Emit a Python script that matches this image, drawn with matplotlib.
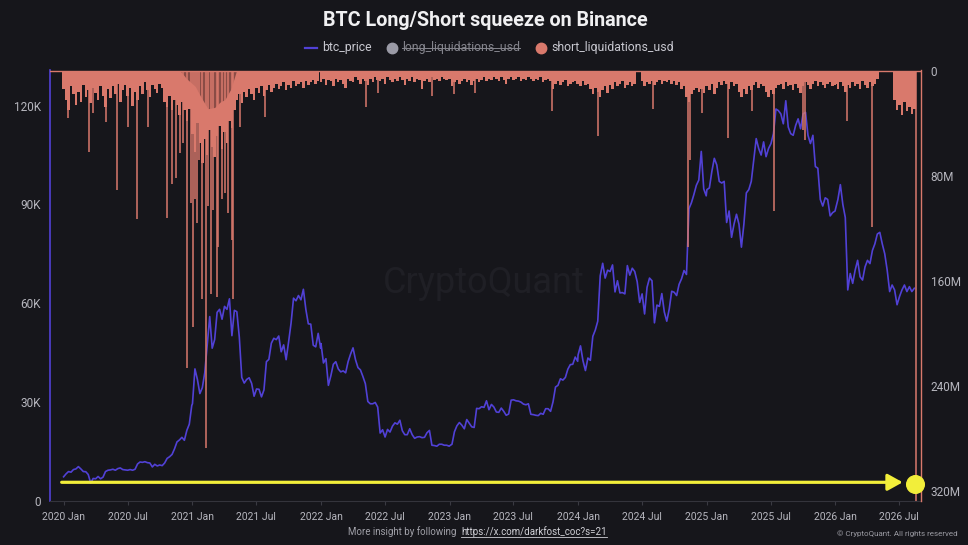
import matplotlib
matplotlib.use("Agg")
import matplotlib.pyplot as plt
import pandas as pd
from matplotlib.lines import Line2D

plt.rcParams['font.family'] = ['Roboto', 'DejaVu Sans']

# ---- BTC price, weekly samples from Jan 1 of each year (thousand USD) ----
price_2020 = [7.2, 8.1, 8.8, 8.6, 9.4, 9.6, 10.3, 9.6, 8.8, 8.75, 7.9, 5.3, 6.7, 6.6, 7.3, 6.6, 7.1, 8.8,
              9.2, 9.3, 9.5, 9.2, 9.7, 9.9, 9.4, 9.3, 9.2, 9.4, 9.2, 9.5, 11.1, 11.7, 11.6, 11.8, 11.5,
              11.4, 10.2, 11.0, 10.5, 10.8, 10.6, 11.4, 12.8, 13.3, 14.0, 15.7, 17.8, 18.4, 19.2, 18.3,
              21.3, 23.2, 28.9]
price_2021 = [29.4, 40.0, 36.8, 32.5, 34.3, 38.9, 47.5, 55.9, 46.3, 48.9, 57.2, 58.1, 55.1, 59.0, 58.1,
              61.3, 50.1, 57.8, 57.4, 49.7, 37.4, 35.7, 36.8, 37.3, 35.6, 31.7, 33.9, 33.8, 31.5, 33.6,
              42.2, 42.9, 47.8, 49.3, 48.9, 50.0, 45.2, 47.3, 42.8, 48.2, 53.9, 61.5, 60.7, 62.3, 61.0,
              64.2, 58.1, 53.7, 53.6, 47.2, 46.7, 50.8, 46.3]
price_2022 = [47.7, 41.8, 43.1, 35.0, 37.9, 41.4, 42.2, 40.0, 39.1, 39.4, 38.8, 42.2, 44.5, 46.4, 42.8,
              40.4, 39.7, 37.7, 35.5, 30.1, 29.4, 29.4, 29.8, 28.4, 20.5, 21.5, 19.3, 21.6, 20.8, 22.6,
              23.6, 23.2, 24.4, 21.2, 20.0, 20.0, 21.8, 20.0, 18.9, 19.3, 19.4, 19.1, 19.2, 20.6, 21.3,
              16.8, 16.7, 16.5, 17.1, 17.1, 16.8, 16.8, 16.5]
price_2023 = [16.6, 17.1, 20.9, 22.7, 23.7, 22.9, 21.8, 24.6, 23.5, 22.4, 22.2, 28.0, 27.9, 28.5, 28.3,
              30.3, 27.6, 29.2, 28.4, 26.9, 26.8, 28.1, 27.1, 25.9, 26.3, 30.5, 30.6, 30.3, 30.2, 29.9,
              29.3, 29.1, 29.4, 26.2, 26.1, 25.9, 25.8, 26.5, 26.2, 27.9, 27.9, 27.1, 30.0, 34.5, 35.0,
              37.0, 36.6, 37.4, 39.9, 41.3, 41.4, 43.6, 42.3]
price_2024 = [44.2, 47.0, 42.5, 39.5, 43.3, 42.6, 49.9, 51.8, 54.5, 68.3, 72.1, 67.6, 70.0, 69.6, 71.6,
              63.4, 66.8, 63.1, 63.2, 62.8, 71.4, 68.5, 70.6, 69.6, 66.5, 60.2, 62.8, 56.7, 64.8, 67.6,
              66.8, 54.0, 59.4, 59.0, 62.9, 57.3, 54.5, 58.2, 63.6, 63.3, 62.3, 65.7, 67.4, 69.9, 68.7,
              88.7, 90.5, 93.0, 95.8, 97.4, 106.1, 94.7, 92.6]
price_2025 = [94.5, 95.0, 100.0, 104.0, 102.0, 97.0, 96.5, 97.0, 84.5, 88.0, 80.0, 84.0, 87.0, 84.0,
              77.0, 84.0, 93.5, 94.5, 97.0, 103.5, 110.0, 107.0, 105.0, 109.0, 104.5, 107.0, 108.5,
              111.5, 119.0, 118.5, 117.5, 114.5, 121.5, 113.5, 111.5, 111.0, 114.0, 116.0, 113.0,
              117.5, 118.0, 111.0, 108.5, 111.0, 101.5, 101.0, 91.5, 89.5, 92.0, 91.5, 86.5, 87.5, 88.0]
price_2026 = [88.5, 91.5, 96.0, 90.0, 86.0, 64.0, 69.0, 66.0, 70.0, 73.0, 68.0, 67.0, 71.0, 73.0, 72.0,
              76.0, 78.0, 81.0, 81.5, 78.0, 75.0, 70.0, 63.5, 65.5, 64.0, 59.5, 62.0, 64.0, 65.5, 63.5,
              65.0, 63.5, 64.5]

# ---- short liquidations, weekly band (million USD) ----
liq_2020 = [14, 22, 30, 12, 18, 26, 16, 24, 11, 20, 15, 25, 13, 17, 22, 12, 19, 28, 14, 21, 12, 18, 10,
            24, 15, 11, 19, 13, 27, 16, 22, 12, 18, 9, 15, 20, 11, 14, 17, 10, 13, 24, 28, 19, 30, 22,
            26, 34, 24, 30, 38, 29, 40]
liq_2021 = [48, 62, 40, 55, 70, 52, 64, 45, 58, 66, 50, 42, 60, 47, 55, 38, 44, 30, 22, 18, 25, 16, 20,
            14, 18, 22, 13, 17, 12, 19, 15, 11, 16, 13, 10, 14, 12, 9, 15, 11, 13, 8, 12, 10, 9, 13, 8,
            11, 9, 7, 10, 8]
liq_2022 = [9, 6, 11, 7, 8, 12, 6, 9, 7, 10, 13, 6, 8, 9, 5, 7, 10, 6, 8, 11, 6, 9, 5, 7, 8, 6, 10, 5, 7,
            9, 6, 8, 5, 7, 11, 6, 8, 5, 9, 6, 7, 14, 8, 6, 9, 5, 7, 6, 8, 5, 6, 7, 6]
liq_2023 = [6, 12, 9, 7, 10, 8, 6, 9, 7, 11, 8, 6, 9, 7, 5, 8, 6, 7, 5, 6, 8, 5, 7, 10, 6, 5, 7, 6, 5, 8,
            6, 7, 5, 6, 8, 6, 7, 5, 9, 7, 6, 8, 14, 10, 8, 11, 9, 7, 12, 10, 9, 8, 10]
liq_2024 = [9, 12, 8, 11, 10, 14, 18, 13, 16, 20, 15, 12, 17, 11, 14, 9, 12, 10, 8, 13, 11, 9, 12, 10,
            0, 0, 8, 12, 9, 10, 8, 11, 9, 7, 10, 8, 9, 7, 10, 8, 11, 9, 14, 12, 20, 24, 18, 15, 13, 16,
            14, 17, 12]
liq_2025 = [12, 15, 10, 18, 13, 9, 11, 8, 10, 14, 9, 12, 10, 16, 20, 14, 18, 12, 15, 11, 9, 13, 10, 12,
            16, 20, 15, 18, 13, 11, 10, 14, 9, 12, 11, 15, 10, 13, 17, 12, 9, 11, 14, 10, 8, 12, 9, 11,
            13, 10, 9, 12, 11]
liq_2026 = [10, 14, 9, 12, 16, 11, 13, 9, 12, 10, 14, 8, 11, 13, 9, 12, 10, 6, 0, 0, 0, 0, 0, 0, 22, 30,
            26, 34, 24, 31, 28, 33, 29]

# single-day squeeze spikes (million USD)
spike_dates = ['2020-01-14', '2020-03-14', '2020-03-25', '2020-04-30', '2020-06-02', '2020-07-03',
               '2020-07-27', '2020-08-29', '2020-10-22', '2020-11-03', '2020-11-15', '2020-11-27',
               '2020-12-04', '2020-12-16', '2020-12-27', '2021-01-02', '2021-01-08', '2021-01-13',
               '2021-01-20', '2021-01-27', '2021-02-08', '2021-02-15', '2021-02-22', '2021-03-01',
               '2021-03-11', '2021-03-15', '2021-03-25', '2021-04-03', '2021-04-13', '2021-04-22',
               '2021-04-27', '2021-05-16', '2021-07-26', '2022-05-10', '2022-06-13', '2022-11-11',
               '2023-01-13', '2023-03-14', '2023-10-20', '2024-02-27', '2024-08-02', '2024-11-09',
               '2024-11-14', '2024-12-17', '2025-03-03', '2025-05-08', '2025-07-10', '2025-10-02',
               '2025-10-07', '2026-02-03', '2026-04-16', '2026-08-18']
spike_values = [36, 62, 32, 39, 91, 43, 113, 43, 112, 86, 82, 63, 55, 226, 101, 195, 98, 116, 68, 174,
                287, 103, 170, 106, 172, 134, 98, 93, 108, 129, 174, 43, 35, 28, 17, 19, 18, 17, 31, 50,
                29, 134, 68, 32, 51, 31, 107, 45, 53, 38, 119, 350]

# dense overlap zone during the 2021 squeeze (million USD)
dense_dates = ['2020-11-27', '2020-12-15', '2021-01-09', '2021-01-25', '2021-02-14', '2021-03-05',
               '2021-03-20', '2021-04-03', '2021-04-20', '2021-05-06']
dense_values = [0, 6, 12, 20, 29, 28, 24, 22, 14, 0]

x_years = [2020, 2021, 2022, 2023, 2024, 2025, 2026]
price_by_year = [price_2020, price_2021, price_2022, price_2023, price_2024, price_2025, price_2026]
liq_by_year = [liq_2020, liq_2021, liq_2022, liq_2023, liq_2024, liq_2025, liq_2026]

BG = '#16161b'
PURPLE = '#5141d6'
SALMON = '#d9796c'
BROWN = '#8a4c46'
YELLOW = '#f2ee3a'
TXT = '#b6b6be'


def weekly(year, values):
    return pd.date_range(f"{year}-01-01", periods=len(values), freq="7D")


price_x = pd.DatetimeIndex([])
price_y = []
liq_x = pd.DatetimeIndex([])
liq_y = []
for yr, p, l in zip(x_years, price_by_year, liq_by_year):
    price_x = price_x.append(weekly(yr, p))
    price_y += [v * 1000 for v in p]
    liq_x = liq_x.append(weekly(yr, l))
    liq_y += l

W, H = 968, 545
fig = plt.figure(figsize=(W / 100, H / 100), dpi=100, facecolor=BG)
ax = fig.add_axes([50 / W, (H - 500.5) / H, 871 / W, 430.5 / H])
ax.set_facecolor(BG)
ax2 = ax.twinx()

# watermark
ax.text(0.498, 0.505, 'CryptoQuant', transform=ax.transAxes, ha='center', va='center',
        fontsize=26, color='#1f1f25', zorder=0)

ax.plot(price_x, price_y, color=PURPLE, lw=1.2, zorder=2)

ax2.bar(liq_x, liq_y, width=7.0, color=SALMON, linewidth=0, antialiased=False, zorder=2)
ax2.fill_between(pd.to_datetime(dense_dates), 0, dense_values, color=BROWN, lw=0, zorder=3)
ax2.vlines(pd.to_datetime(spike_dates), 0, spike_values, color=SALMON, lw=1.1, zorder=4)
ax2.axhline(0, color=SALMON, lw=1.0, zorder=4)

x0 = pd.Timestamp('2020-01-01') - pd.Timedelta(days=38.6)
x1 = pd.Timestamp('2020-01-01') + pd.Timedelta(days=2435)
ax.set_xlim(x0, x1)
ax.set_ylim(0, 130850)
ax2.set_ylim(327.2, -0.5)

tick_dates = [pd.Timestamp(f"{y}-{m:02d}-01") for y in x_years for m in (1, 7)]
tick_labels = [f"{d.year} {'Jan' if d.month == 1 else 'Jul'}" for d in tick_dates]
ax.set_xticks(tick_dates)
ax.set_xticklabels(tick_labels)
ax.tick_params(axis='x', colors='#3a3a42', labelcolor=TXT, labelsize=7.5, length=3, width=0.8, pad=5.5)

ax.set_yticks([0, 30000, 60000, 90000, 120000])
ax.set_yticklabels(['0', '30K', '60K', '90K', '120K'])
ax.tick_params(axis='y', length=0, labelcolor=TXT, labelsize=8.5, pad=6.5)
ax2.set_yticks([0, 80, 160, 240, 320])
ax2.set_yticklabels(['0', '80M', '160M', '240M', '320M'])
ax2.tick_params(axis='y', length=0, labelcolor=TXT, labelsize=8.5, pad=7)

for s in ['top', 'right']:
    ax.spines[s].set_visible(False)
ax.spines['left'].set_color(PURPLE)
ax.spines['left'].set_linewidth(1.2)
ax.spines['bottom'].set_color('#34343c')
ax.spines['bottom'].set_linewidth(0.8)
for s in ['top', 'left', 'bottom']:
    ax2.spines[s].set_visible(False)
ax2.spines['right'].set_color(SALMON)
ax2.spines['right'].set_linewidth(1.0)

# yellow arrow + dot
ax2.annotate('', xy=(0.979, 0.0423), xytext=(0.0134, 0.0423), xycoords='axes fraction',
             arrowprops=dict(arrowstyle='-|>,head_length=0.45,head_width=0.25', color=YELLOW,
                             lw=2.3, mutation_scale=20, shrinkA=0, shrinkB=0), zorder=6)
ax2.plot([0.993], [0.038], 'o', ms=12.7, color=YELLOW, transform=ax2.transAxes, clip_on=False, zorder=7)

# title and legend
fig.text(485 / W, 1 - 21 / H, 'BTC Long/Short squeeze on Binance', ha='center', va='center',
         fontsize=14.2, fontweight='bold', color='#f0f0f2')
ly = 1 - 48 / H
fig.add_artist(Line2D([305 / W, 317 / W], [ly, ly], color=PURPLE, lw=1.6, transform=fig.transFigure))
fig.text(322 / W, ly, 'btc_price', ha='left', va='center', fontsize=8.8, color='#c8c8d0')
fig.add_artist(Line2D([392 / W], [ly], marker='o', ms=7.5, color='#9a9aa6', lw=0, transform=fig.transFigure))
long_t = fig.text(402 / W, ly, 'long_liquidations_usd', ha='left', va='center', fontsize=8.8,
                  color='#85858d')
fig.add_artist(Line2D([541 / W], [ly], marker='o', ms=7.5, color=SALMON, lw=0, transform=fig.transFigure))
fig.text(551 / W, ly, 'short_liquidations_usd', ha='left', va='center', fontsize=8.8, color='#c8c8d0')

# footer
fy = 1 - 532 / H
fig.text(459 / W, fy, 'More insight by following ', ha='right', va='center', fontsize=7, color='#a0a0a8')
link = fig.text(461 / W, fy, 'https://x.com/darkfost_coc?s=21', ha='left', va='center', fontsize=7,
                color='#d0d0d6')
fig.text(958 / W, 1 - 534 / H, '\u00a9 CryptoQuant. All rights reserved', ha='right', va='center',
         fontsize=5.8, color='#9a9aa2')

fig.canvas.draw()
r = fig.canvas.get_renderer()
bb = link.get_window_extent(r)
fig.add_artist(Line2D([bb.x0 / W, bb.x1 / W], [(bb.y0 + 0.5) / H] * 2, color='#d0d0d6', lw=0.6,
                      transform=fig.transFigure))
bb = long_t.get_window_extent(r)
ym = (bb.y0 + bb.y1) / 2 / H
fig.add_artist(Line2D([bb.x0 / W, bb.x1 / W], [ym, ym], color='#85858d', lw=0.7, transform=fig.transFigure))

fig.savefig('out.png', dpi=100, facecolor=BG)
